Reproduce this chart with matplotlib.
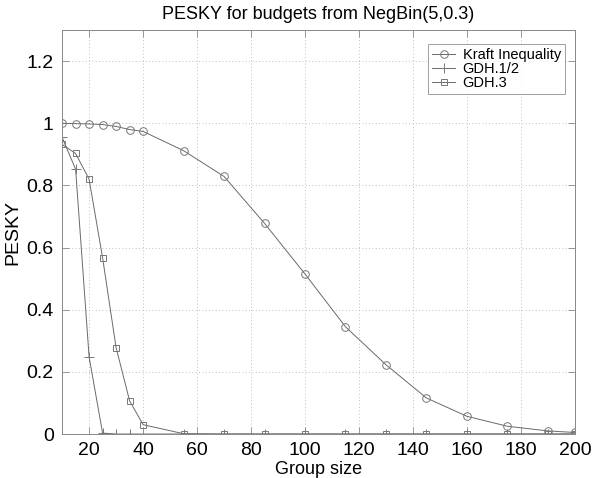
import matplotlib
matplotlib.use("Agg")
import matplotlib.pyplot as plt

# group sizes
x_kraft = [10, 15, 20, 25, 30, 35, 40, 55, 70, 85, 100, 115, 130, 145, 160, 175, 190, 200]
y_kraft = [1.0, 0.999, 0.998, 0.996, 0.99, 0.98, 0.974, 0.912, 0.829, 0.678, 0.515, 0.345,
           0.223, 0.116, 0.057, 0.025, 0.01, 0.005]

x_gdh12 = [10, 15, 20, 25, 30, 35, 55, 70, 85, 100, 115, 130, 145, 160, 175, 190, 200]
y_gdh12 = [0.955, 0.852, 0.248, 0.003, 0.0, 0.0, 0.0, 0.0, 0.0, 0.0, 0.0, 0.0, 0.0, 0.0,
           0.0, 0.0, 0.0]

x_gdh3 = [10, 15, 20, 25, 30, 35, 40, 55, 70, 85, 100, 115, 130, 145, 160, 175, 190, 200]
y_gdh3 = [0.932, 0.903, 0.82, 0.567, 0.278, 0.107, 0.03, 0.001, 0.0, 0.0, 0.0, 0.0, 0.0,
          0.0, 0.0, 0.0, 0.0, 0.0]

xticks = [20, 40, 60, 80, 100, 120, 140, 160, 180, 200]
yticks = [0, 0.2, 0.4, 0.6, 0.8, 1.0, 1.2]
ytick_labels = ["0", "0.2", "0.4", "0.6", "0.8", "1", "1.2"]

plt.rcParams["font.family"] = ["Liberation Sans", "DejaVu Sans"]

fig = plt.figure(figsize=(6.09, 4.78), dpi=100)
ax = fig.add_axes([0.102, 0.092, 0.842, 0.845])

line_col = "#6a6a6a"
mark_col = "#777777"
ax.plot(x_kraft, y_kraft, color=line_col, lw=0.7, marker="o", ms=5.5, mfc="none",
        mec=mark_col, mew=0.7, label="Kraft Inequality")
ax.plot(x_gdh12, y_gdh12, color=line_col, lw=0.7, marker="+", ms=6.5,
        mec=mark_col, mew=0.7, label="GDH.1/2")
ax.plot(x_gdh3, y_gdh3, color=line_col, lw=0.7, marker="s", ms=4.5, mfc="none",
        mec=mark_col, mew=0.7, label="GDH.3")

ax.set_xlim(10, 200)
ax.set_ylim(0, 1.3)
ax.set_xticks(xticks)
ax.set_yticks(yticks)
ax.set_yticklabels(ytick_labels)
ax.tick_params(direction="in", length=5, width=0.6, color="#888888", labelsize=14,
               top=True, right=True, pad=6)
ax.grid(True, linestyle=(0, (1, 3)), color="#aaaaaa", lw=0.6)
for s in ax.spines.values():
    s.set_color("#888888")
    s.set_linewidth(0.7)

ax.set_xlabel("Group size", fontsize=13, labelpad=1)
ax.set_ylabel("PESKY", fontsize=14, labelpad=4)
ax.set_title("PESKY for budgets from NegBin(5,0.3)", fontsize=13, pad=8)

leg = ax.legend(loc="upper right", bbox_to_anchor=(0.98, 0.965), fontsize=10.5,
                frameon=True, fancybox=False, handlelength=1.6, labelspacing=0.0,
                borderpad=0.25, handletextpad=0.5, borderaxespad=0)
leg.get_frame().set_edgecolor("#888888")
leg.get_frame().set_linewidth(0.7)

fig.savefig("out.png", dpi=100, facecolor="white")
